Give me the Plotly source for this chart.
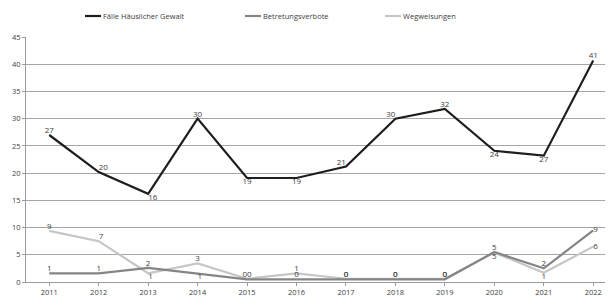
import plotly.graph_objects as go

years = [2011, 2012, 2013, 2014, 2015, 2016, 2017, 2018, 2019, 2020, 2021, 2022]

# plotted line positions (as drawn in the reference)
faelle_y = [27.0, 20.2, 16.2, 30.0, 19.1, 19.1, 21.2, 30.0, 31.8, 24.1, 23.2, 40.7]
betret_y = [1.6, 1.6, 2.6, 1.6, 0.5, 0.5, 0.5, 0.5, 0.5, 5.5, 2.5, 9.5]
wegw_y = [9.4, 7.5, 1.6, 3.4, 0.6, 1.6, 0.6, 0.6, 0.6, 5.4, 1.7, 6.5]

# data labels (as printed in the reference)
faelle_lbl = ["27", "20", "16", "30", "19", "19", "21", "30", "32", "24", "27", "41"]
betret_lbl = ["1", "1", "2", "1", "0", "0", "0", "0", "0", "5", "2", "9"]
wegw_lbl = ["9", "7", "1", "3", "0", "1", "0", "0", "0", "5", "1", "6"]

faelle_pos = ["top center", "top right", "bottom right", "top center", "bottom center",
              "bottom center", "top left", "top left", "top center", "bottom center",
              "bottom center", "top center"]
betret_pos = ["top center", "top center", "top center", "bottom right", "top left",
              "top center", "top center", "top center", "top center", "top center",
              "top center", "middle right"]
wegw_pos = ["top center", "top right", "bottom right", "top center", "top right",
            "top center", "top center", "top center", "top center", "bottom center",
            "bottom center", "middle right"]

names = ["Fälle Häuslicher Gewalt", "Betretungsverbote", "Wegweisungen"]
colors = ["#1e1e1e", "#858585", "#c6c6c6"]
series = [faelle_y, betret_y, wegw_y]
labels = [faelle_lbl, betret_lbl, wegw_lbl]
positions = [faelle_pos, betret_pos, wegw_pos]

y_ticks = [0, 5, 10, 15, 20, 25, 30, 35, 40, 45]

FONT = "Open Sans"
TXT = "#404040"

fig = go.Figure()
# draw light series first so dark one is on top
for i in [2, 1, 0]:
    fig.add_trace(go.Scatter(
        x=years, y=series[i], mode="lines+text", name=names[i],
        line=dict(color=colors[i], width=2.2),
        text=labels[i], textposition=positions[i],
        textfont=dict(family=FONT, size=8, color=TXT),
        cliponaxis=False, showlegend=False,
    ))

# manual legend (paper coords of the plot area)
leg_x = [85, 245, 385]
PW, PH = 587, 245
for i in range(3):
    fig.add_shape(type="line", xref="paper", yref="paper",
                  x0=(leg_x[i] - 26) / PW, x1=(leg_x[i] - 26 + 16) / PW,
                  y0=(282 - 16) / PH, y1=(282 - 16) / PH,
                  line=dict(color=colors[i], width=2.2))
    fig.add_annotation(xref="paper", yref="paper",
                       x=(leg_x[i] - 26 + 16) / PW, y=(282 - 16) / PH,
                       xanchor="left", yanchor="middle", showarrow=False,
                       text=names[i], font=dict(family=FONT, size=7.5, color=TXT))

# page body adds an 8px margin: figure is 605x288, placed at (8, 8)
fig.update_layout(
    width=605, height=288,
    margin=dict(l=18, r=0, t=29, b=14),
    paper_bgcolor="white", plot_bgcolor="white",
    showlegend=False,
    xaxis=dict(range=[2010.53, 2022.40], tickvals=years, ticktext=[str(y) for y in years],
               automargin=False,
               showgrid=False, zeroline=False, showline=True, linecolor="#9a9a9a", linewidth=1,
               ticks="outside", ticklen=3, tickcolor="#9a9a9a",
               tickfont=dict(family=FONT, size=7.5, color=TXT)),
    yaxis=dict(range=[0, 45], tickvals=y_ticks, showgrid=True, gridcolor="#a6a6a6", gridwidth=1,
               automargin=False,
               zeroline=False, showline=True, linecolor="#9a9a9a", linewidth=1,
               ticks="outside", ticklen=3, tickcolor="#9a9a9a",
               tickfont=dict(family=FONT, size=7.5, color=TXT)),
)

fig.write_html("out.html")
